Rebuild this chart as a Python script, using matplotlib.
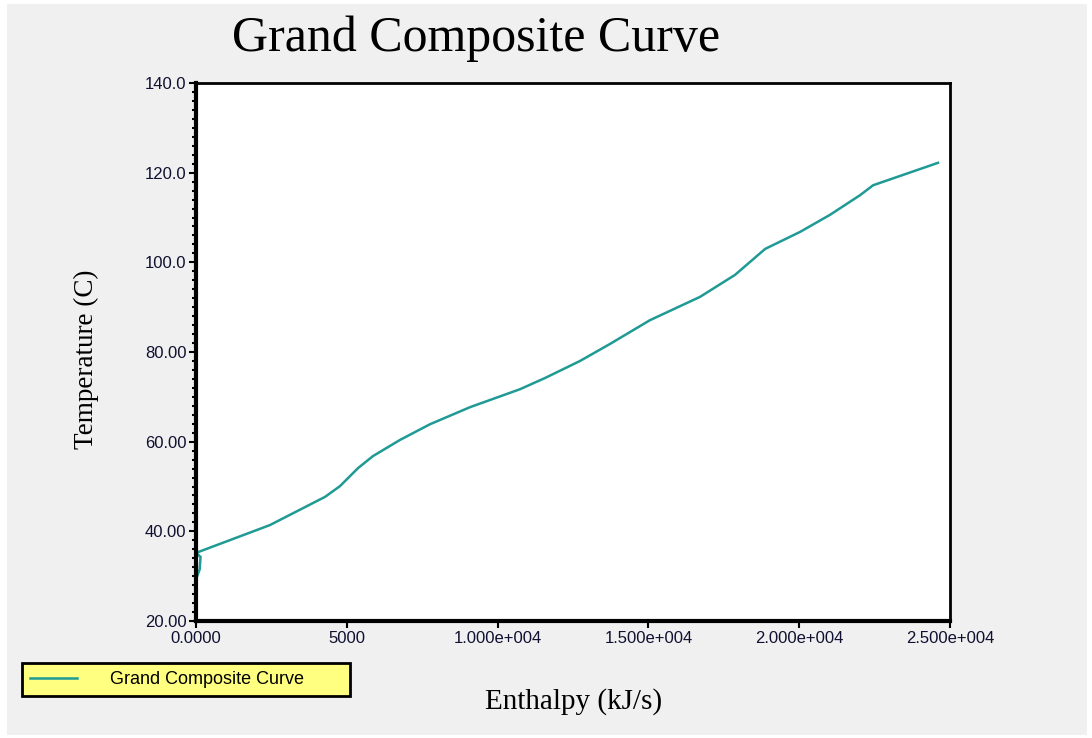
import matplotlib
matplotlib.use("Agg")
import matplotlib.pyplot as plt
from matplotlib.patches import Rectangle
from matplotlib.ticker import MultipleLocator, FixedLocator, FixedFormatter

# Grand composite curve
enthalpy = [0, 120, 150, 0, 2450, 4280, 4775, 5370, 5870, 6765, 7760, 9085,
            10740, 11570, 12730, 13725, 15050, 16710, 17870, 18870, 20030,
            21020, 22020, 22450, 24600]
temperature = [29.3, 31.5, 34.3, 35.2, 41.4, 47.7, 50.1, 54.1, 56.8, 60.4,
               63.9, 67.7, 71.7, 74.2, 78.0, 81.8, 87.1, 92.3, 97.2, 103.0,
               106.8, 110.6, 115.0, 117.2, 122.2]

x_ticks = [0, 5000, 10000, 15000, 20000, 25000]
x_ticklabels = ["0.0000", "5000", "1.000e+004", "1.500e+004", "2.000e+004", "2.500e+004"]
y_ticks = [20, 40, 60, 80, 100, 120, 140]
y_ticklabels = ["20.00", "40.00", "60.00", "80.00", "100.0", "120.0", "140.0"]

line_color = "#1f9a94"
serif = ["Liberation Serif", "DejaVu Serif"]
sans = ["Liberation Sans", "DejaVu Sans"]

fig = plt.figure(figsize=(10.92, 7.38), dpi=100, facecolor="white")
fig.patches.append(Rectangle((0.006, 0.004), 0.989, 0.99, transform=fig.transFigure,
                             facecolor="#f0f0f0", edgecolor="none", zorder=-10))

ax = fig.add_axes([0.1795, 0.1585, 0.6905, 0.729])
ax.set_facecolor("white")
ln, = ax.plot(enthalpy, temperature, color=line_color, lw=1.8, label="Grand Composite Curve")

ax.set_xlim(0, 25000)
ax.set_ylim(20, 140)
ax.xaxis.set_major_locator(FixedLocator(x_ticks))
ax.xaxis.set_major_formatter(FixedFormatter(x_ticklabels))
ax.yaxis.set_major_locator(FixedLocator(y_ticks))
ax.yaxis.set_major_formatter(FixedFormatter(y_ticklabels))
ax.yaxis.set_minor_locator(MultipleLocator(2))

ax.tick_params(axis="both", which="major", direction="out", length=5, width=1.5,
               labelsize=12, pad=2, colors="black", labelcolor="#101030")
ax.tick_params(axis="y", which="minor", direction="out", length=3, width=1.5)
for lab in ax.get_xticklabels() + ax.get_yticklabels():
    lab.set_family(sans)

for side in ["top", "right"]:
    ax.spines[side].set_linewidth(2)
for side in ["left", "bottom"]:
    ax.spines[side].set_linewidth(3)

fig.text(0.436, 0.948, "Grand Composite Curve", family=serif, fontsize=36,
         ha="center", va="center")
fig.text(0.079, 0.513, "Temperature (C)", family=serif, fontsize=19.5,
         rotation=90, ha="center", va="center")
fig.text(0.525, 0.05, "Enthalpy (kJ/s)", family=serif, fontsize=21,
         ha="center", va="center")

leg = fig.legend(handles=[ln], loc="lower left", bbox_to_anchor=(0.0201, 0.0569, 0.300, 0.046),
                 mode="expand", fancybox=False, framealpha=1, borderaxespad=0,
                 handlelength=2.6, handletextpad=1.8, borderpad=0.45,
                 prop={"family": sans, "size": 13})
leg.get_frame().set_facecolor("#ffff80")
leg.get_frame().set_edgecolor("black")
leg.get_frame().set_linewidth(2)

fig.savefig("out.png", dpi=100, facecolor=fig.get_facecolor())
